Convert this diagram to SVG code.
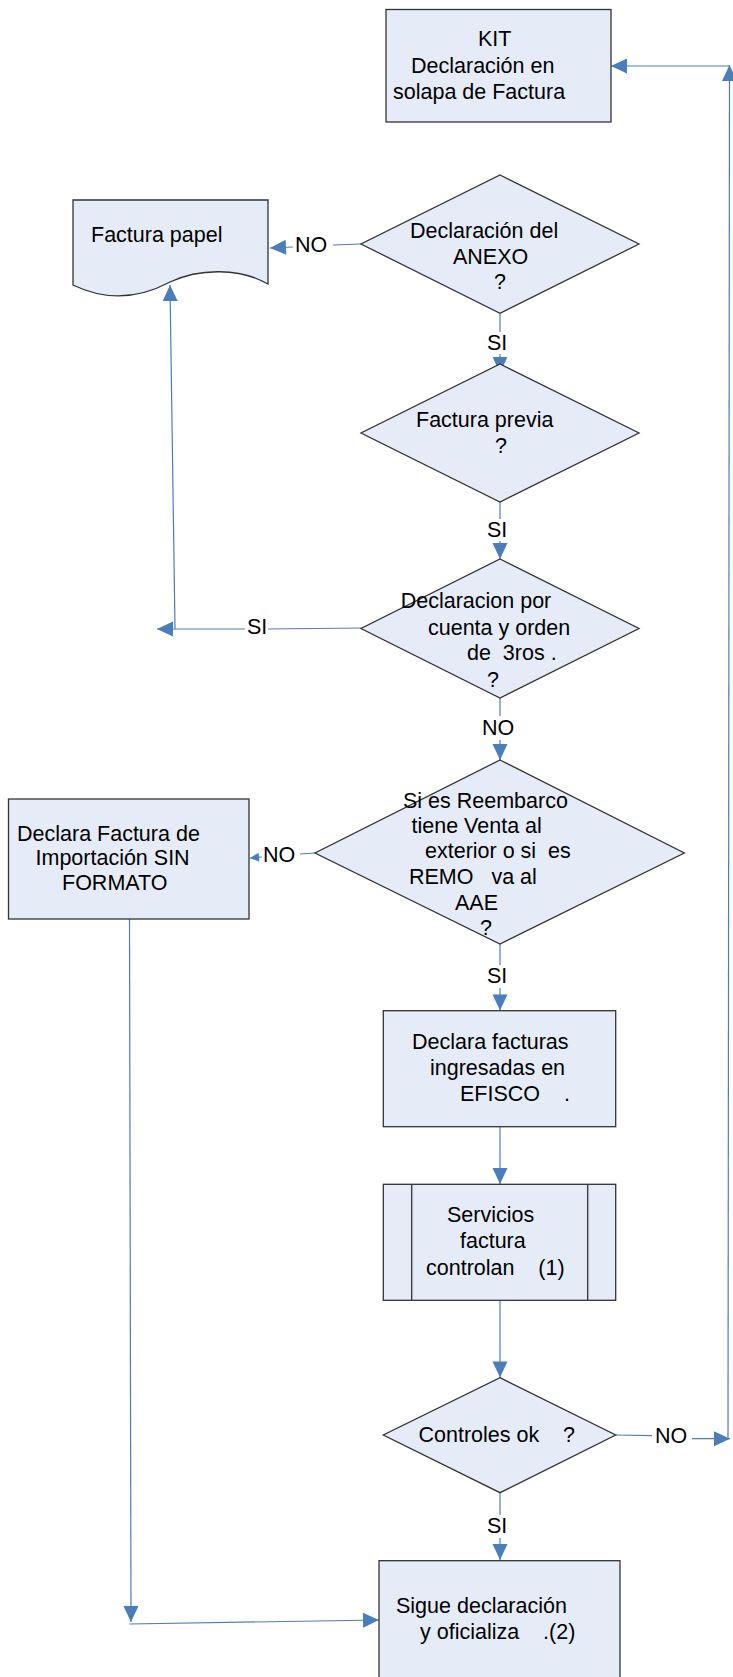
<svg xmlns="http://www.w3.org/2000/svg" width="733" height="1677" viewBox="0 0 733 1677">
<style>
.n{fill:#E6ECF7;stroke:#333;stroke-width:1.3}
.c{fill:none;stroke:#4A7EBB;stroke-width:1.2}
.a{marker-end:url(#ah)}
.s{marker-end:url(#sm)}
text{font-family:"Liberation Sans",Arial,sans-serif;font-size:21.5px;fill:#000}
</style>
<defs>
<marker id="ah" markerUnits="userSpaceOnUse" markerWidth="17" markerHeight="16" refX="16" refY="7.5" orient="auto" overflow="visible">
<path d="M0,0 L16,7.5 L0,15 z" fill="#4A7EBB"/>
</marker>
<marker id="sm" markerUnits="userSpaceOnUse" markerWidth="10" markerHeight="10" refX="9" refY="4.5" orient="auto" overflow="visible">
<path d="M0,0 L9,4.5 L0,9 z" fill="#4A7EBB"/>
</marker>
</defs>
<g id="connectors">
<path class="c" d="M361,244 L333,245"/>
<path class="c a" d="M293,247 L270,248"/>
<path class="c" d="M500,313 V332"/>
<path class="c a" d="M500,354 V373"/>
<path class="c" d="M500,502 V519"/>
<path class="c a" d="M500,541 V559"/>
<path class="c" d="M361,628 L268,629"/>
<path class="c a" d="M245,629 L157,629"/>
<path class="c a" d="M175,629 L170,285"/>
<path class="c" d="M500,698 V716"/>
<path class="c a" d="M500,740 V760"/>
<path class="c" d="M315,853 L300,854"/>
<path class="c s" d="M262,857 L250,858"/>
<path class="c" d="M500,944 V965"/>
<path class="c a" d="M500,988 V1010.5"/>
<path class="c a" d="M500,1127 V1184"/>
<path class="c a" d="M500,1300 V1377.5"/>
<path class="c" d="M615.7,1435 L652,1435.7"/>
<path class="c a" d="M692,1438.7 L730,1438.7"/>
<path class="c a" d="M728,1439 L729.5,65"/>
<path class="c a" d="M729,66 L611,66"/>
<path class="c" d="M500,1492.7 V1515"/>
<path class="c a" d="M500,1538 V1560"/>
<path class="c a" d="M129.5,919 L131,1622"/>
<path class="c a" d="M129.5,1624 L379,1620"/>
</g>
<g id="labels">
<text x="295" y="252">NO</text>
<text x="487" y="350">SI</text>
<text x="487" y="537">SI</text>
<text x="247" y="634">SI</text>
<text x="482" y="735">NO</text>
<text x="263" y="862">NO</text>
<text x="487" y="983">SI</text>
<text x="655" y="1443">NO</text>
<text x="487" y="1533">SI</text>
</g>
<g id="kit">
<rect class="n" x="386" y="9.5" width="225" height="112.5"/>
<text x="478" y="45.7">KIT</text>
<text x="411" y="72.7">Declaración en</text>
<text x="393" y="98.7">solapa de Factura</text>
</g>
<g id="factura-papel">
<path class="n" d="M73,200 H268 V284 C240,268 200,268 170,282 C140,298 108,302 73,285 Z"/>
<text x="91" y="241.7">Factura papel</text>
</g>
<g id="dec-anexo">
<polygon class="n" points="500,175 639,244 500,313.3 361,244"/>
<text x="410" y="238.3">Declaración del</text>
<text x="453" y="264">ANEXO</text>
<text x="494" y="289">?</text>
</g>
<g id="factura-previa">
<polygon class="n" points="500,364 639,433 500,502 361,433"/>
<text x="416" y="426.7">Factura previa</text>
<text x="495" y="452.7">?</text>
</g>
<g id="dec-cuenta">
<polygon class="n" points="500,559 639,628.5 500,698 361,628.5"/>
<text x="400.7" y="608.3">Declaracion por</text>
<text x="428" y="635">cuenta y orden</text>
<text x="467" y="660" xml:space="preserve">de  3ros .</text>
<text x="487" y="686.7">?</text>
</g>
<g id="reembarco">
<polygon class="n" points="500,760 684.3,853 500,944 315,853"/>
<text x="403" y="807.7">Si es Reembarco</text>
<text x="411.5" y="832.7">tiene Venta al</text>
<text x="425" y="858.3" xml:space="preserve">exterior o si  es</text>
<text x="409" y="884" xml:space="preserve">REMO   va al</text>
<text x="455" y="910">AAE</text>
<text x="480" y="935">?</text>
</g>
<g id="sin-formato">
<rect class="n" x="8.5" y="799" width="240.5" height="120"/>
<text x="17" y="840.7">Declara Factura de</text>
<text x="35.5" y="865">Importación SIN</text>
<text x="62" y="890">FORMATO</text>
</g>
<g id="efisco">
<rect class="n" x="383.3" y="1010.7" width="232.4" height="116"/>
<text x="412" y="1049">Declara facturas</text>
<text x="430" y="1075">ingresadas en</text>
<text x="460" y="1100.7" xml:space="preserve">EFISCO    .</text>
</g>
<g id="servicios">
<rect class="n" x="383.3" y="1184.3" width="232.4" height="116"/>
<line class="n" x1="411.7" y1="1184.3" x2="411.7" y2="1300.3"/>
<line class="n" x1="587.7" y1="1184.3" x2="587.7" y2="1300.3"/>
<text x="447" y="1222.3">Servicios</text>
<text x="460" y="1248.3">factura</text>
<text x="426" y="1275" xml:space="preserve">controlan    (1)</text>
</g>
<g id="controles">
<polygon class="n" points="500,1377.7 615.7,1435 500,1492.7 383.3,1435"/>
<text x="418.5" y="1441.7" xml:space="preserve">Controles ok    ?</text>
</g>
<g id="sigue">
<rect class="n" x="379" y="1560.7" width="241" height="130"/>
<text x="396" y="1613">Sigue declaración</text>
<text x="420" y="1639" xml:space="preserve">y oficializa    .(2)</text>
</g>
</svg>
